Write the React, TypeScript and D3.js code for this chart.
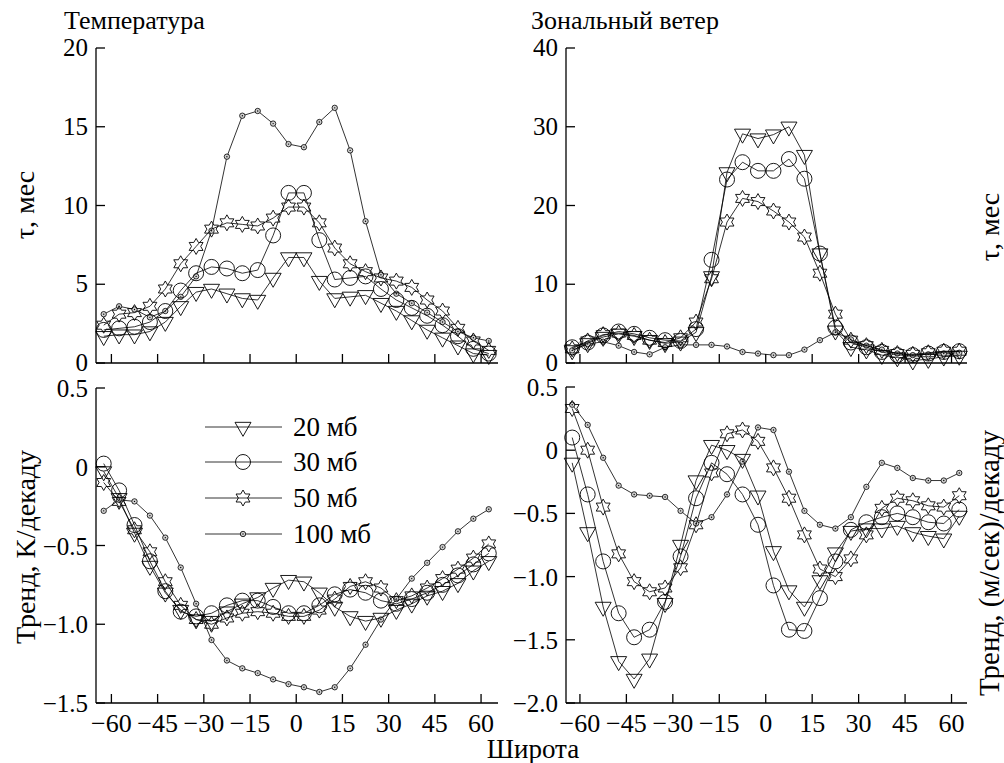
import * as d3 from "d3";

// latitudes of all points (deg)
const lats = [
  -62.5, -57.5, -52.5, -47.5, -42.5, -37.5, -32.5, -27.5, -22.5, -17.5, -12.5, -7.5, -2.5,
  2.5, 7.5, 12.5, 17.5, 22.5, 27.5, 32.5, 37.5, 42.5, 47.5, 52.5, 57.5, 62.5,
];

// Температура, τ (мес)
const tempTau20 = [1.7, 1.8, 1.8, 2.0, 2.6, 3.6, 4.5, 4.7, 4.4, 4.1, 4.0, 5.4, 6.7, 6.7, 5.2, 4.1, 4.2, 4.3, 3.8, 3.3, 2.7, 2.1, 1.6, 1.1, 0.6, 0.5];
const tempTau30 = [2.1, 2.2, 2.3, 2.6, 3.3, 4.6, 5.7, 6.1, 6.0, 5.7, 5.9, 8.1, 10.8, 10.8, 7.8, 5.3, 5.4, 5.5, 4.7, 4.0, 3.5, 3.0, 2.4, 1.7, 0.9, 0.6];
const tempTau50 = [2.4, 3.1, 3.2, 3.6, 4.7, 6.3, 7.4, 8.5, 8.9, 8.8, 8.7, 9.2, 9.9, 9.9, 8.9, 7.3, 6.3, 5.8, 5.4, 5.2, 4.8, 4.0, 3.3, 2.2, 1.4, 0.8];
const tempTau100 = [3.1, 3.6, 3.4, 2.9, 3.3, 4.2, 5.5, 8.4, 13.1, 15.7, 16.0, 15.2, 13.9, 13.7, 15.3, 16.2, 13.5, 9.0, 5.6, 4.4, 3.8, 3.2, 2.6, 2.0, 1.6, 1.4];

// Зональный ветер, τ (мес)
const windTau20 = [1.6, 2.5, 3.3, 3.7, 3.4, 2.9, 2.5, 2.7, 3.9, 11.0, 24.2, 29.1, 28.5, 29.0, 30.0, 26.4, 13.9, 4.1, 2.0, 1.7, 1.0, 0.7, 0.3, 0.5, 0.8, 0.9];
const windTau30 = [2.0, 2.6, 3.5, 4.0, 3.7, 3.2, 2.9, 2.8, 4.3, 13.1, 23.3, 25.5, 24.4, 24.4, 25.9, 23.4, 13.9, 4.5, 2.6, 2.0, 1.4, 1.0, 1.0, 1.2, 1.4, 1.5];
const windTau50 = [1.8, 2.8, 3.6, 3.8, 3.5, 2.9, 2.6, 3.2, 5.2, 10.7, 17.9, 20.9, 20.5, 19.3, 17.9, 16.0, 11.4, 6.2, 2.9, 2.2, 1.6, 1.2, 1.1, 1.3, 1.5, 1.5];
const windTau100 = [1.6, 2.4, 2.7, 2.2, 1.4, 1.1, 2.0, 2.3, 2.3, 2.3, 2.1, 1.4, 1.2, 1.0, 1.0, 1.7, 2.9, 3.9, 3.0, 2.2, 1.7, 1.2, 1.0, 1.1, 1.2, 1.3];

// Тренд температуры, K/декаду
const tempTrend20 = [-0.03, -0.2, -0.42, -0.63, -0.8, -0.91, -0.97, -0.98, -0.92, -0.87, -0.83, -0.77, -0.72, -0.73, -0.8, -0.89, -0.95, -0.98, -0.96, -0.91, -0.87, -0.82, -0.79, -0.74, -0.66, -0.6];
const tempTrend30 = [0.02, -0.15, -0.37, -0.6, -0.79, -0.92, -0.95, -0.93, -0.88, -0.85, -0.85, -0.89, -0.93, -0.93, -0.88, -0.81, -0.78, -0.8, -0.85, -0.87, -0.84, -0.8, -0.75, -0.69, -0.62, -0.55];
const tempTrend50 = [-0.1, -0.22, -0.4, -0.54, -0.73, -0.88, -0.97, -1.0, -0.96, -0.93, -0.92, -0.93, -0.95, -0.95, -0.91, -0.84, -0.76, -0.73, -0.77, -0.85, -0.82, -0.77, -0.71, -0.65, -0.58, -0.49];
const tempTrend100 = [-0.28, -0.21, -0.22, -0.31, -0.45, -0.64, -0.87, -1.1, -1.23, -1.28, -1.31, -1.35, -1.38, -1.4, -1.43, -1.4, -1.28, -1.13, -0.97, -0.84, -0.71, -0.61, -0.51, -0.41, -0.33, -0.27];

// Тренд ветра, (м/сек)/декаду
const windTrend20 = [-0.1, -0.65, -1.24, -1.67, -1.81, -1.65, -1.21, -0.75, -0.24, 0.04, 0.0, -0.07, -0.36, -0.8, -1.11, -1.24, -1.03, -0.81, -0.64, -0.62, -0.62, -0.6, -0.65, -0.68, -0.7, -0.52];
const windTrend30 = [0.1, -0.35, -0.88, -1.29, -1.48, -1.42, -1.2, -0.84, -0.38, -0.1, -0.19, -0.35, -0.59, -1.07, -1.42, -1.43, -1.17, -0.88, -0.63, -0.57, -0.53, -0.5, -0.53, -0.57, -0.58, -0.47];
const windTrend50 = [0.33, 0.0, -0.45, -0.82, -1.04, -1.12, -1.09, -0.93, -0.59, -0.18, 0.13, 0.16, 0.07, -0.14, -0.38, -0.67, -0.94, -1.0, -0.86, -0.67, -0.46, -0.38, -0.4, -0.44, -0.45, -0.36];
const windTrend100 = [0.36, 0.2, -0.06, -0.28, -0.35, -0.36, -0.37, -0.48, -0.58, -0.53, -0.35, -0.09, 0.18, 0.16, -0.17, -0.48, -0.59, -0.62, -0.53, -0.29, -0.1, -0.14, -0.22, -0.24, -0.24, -0.18];

const xTicks = [-60, -45, -30, -15, 0, 15, 30, 45, 60];
const legendLabels = ["20 мб", "30 мб", "50 мб", "100 мб"];
const markerKinds = ["tri", "circle", "star", "dot"];

const FONT = '"Liberation Serif", "DejaVu Serif", "Times New Roman", serif';
const TICK = 9;
const TICK_FS = 25;

function Marker({ kind, x, y }: { kind: string; x: number; y: number }) {
  const st = { fill: "none", stroke: "#000", strokeWidth: 0.9 };
  if (kind === "tri") {
    const s = 16, h = 14;
    return <path d={`M${x - s / 2},${y - h / 3}L${x + s / 2},${y - h / 3}L${x},${y + (2 * h) / 3}Z`} {...st} />;
  }
  if (kind === "circle") return <circle cx={x} cy={y} r={7.5} {...st} />;
  if (kind === "star") {
    const R = 8, r = R / Math.sqrt(3);
    const pts = d3.range(12).map((i) => {
      const a = ((-90 + i * 30) * Math.PI) / 180;
      const rr = i % 2 === 0 ? R : r;
      return [x + rr * Math.cos(a), y + rr * Math.sin(a)];
    });
    return <path d={"M" + pts.map((p) => p.join(",")).join("L") + "Z"} {...st} />;
  }
  return (
    <g>
      <circle cx={x} cy={y} r={2.7} fill="#d0d0d0" stroke="#000" strokeWidth={0.8} />
      <circle cx={x} cy={y} r={0.7} fill="#000" />
    </g>
  );
}

type PanelProps = {
  xr: [number, number];
  xd: [number, number];
  yr: [number, number];
  yd: [number, number];
  yTicks: number[];
  fmt: (v: number) => string;
  series: number[][];
  xLabels: boolean;
  dy: number;
};

function Panel({ xr, xd, yr, yd, yTicks, fmt, series, xLabels, dy }: PanelProps) {
  const x = d3.scaleLinear().domain(xd).range(xr);
  const y = d3.scaleLinear().domain(yd).range(yr);
  const line = d3
    .line<number>()
    .x((_, i) => x(lats[i]))
    .y((d) => y(d));
  const order = [3, 2, 1, 0];
  return (
    <g>
      <line x1={xr[0]} x2={xr[0]} y1={yr[0]} y2={yr[1]} stroke="#000" strokeWidth={1.3} />
      <line x1={xr[0]} x2={xr[1]} y1={yr[0]} y2={yr[0]} stroke="#000" strokeWidth={1.3} />
      {yTicks.map((t) => (
        <g key={t}>
          <line x1={xr[0]} x2={xr[0] + TICK} y1={y(t)} y2={y(t)} stroke="#000" strokeWidth={1.3} />
          <text x={xr[0] - 8} y={y(t) + dy} textAnchor="end" fontSize={TICK_FS}>
            {fmt(t)}
          </text>
        </g>
      ))}
      {xTicks.map((t) => (
        <g key={t}>
          <line x1={x(t)} x2={x(t)} y1={yr[0]} y2={yr[0] - TICK} stroke="#000" strokeWidth={1.3} />
          {xLabels && (
            <text x={x(t)} y={yr[0] + 29} textAnchor="middle" fontSize={TICK_FS + 1}>
              {d3.format("d")(t)}
            </text>
          )}
        </g>
      ))}
      {order.map((k) => (
        <g key={k}>
          <path d={line(series[k]) || ""} fill="none" stroke="#000" strokeWidth={0.8} />
          {series[k].map((v, i) => (
            <Marker key={i} kind={markerKinds[k]} x={x(lats[i])} y={y(v)} />
          ))}
        </g>
      ))}
    </g>
  );
}

const fmtInt = d3.format("d");
const fmtTrend = (v: number) => (v === 0 ? "0" : d3.format(".1f")(v));

export default function App() {
  const legendY = [427, 462, 498, 534];
  return (
    <svg
      width={1004}
      height={763}
      style={{ position: "absolute", left: 0, top: 0, background: "#fff", fontFamily: FONT }}
      fill="#000"
    >
      <text x={64} y={29} fontSize={26}>Температура</text>
      <text x={531} y={29} fontSize={26}>Зональный ветер</text>

      <Panel xr={[96, 498]} xd={[-65, 65.5]} yr={[363, 48]} yd={[0, 20]} yTicks={[0, 5, 10, 15, 20]} fmt={fmtInt}
        series={[tempTau20, tempTau30, tempTau50, tempTau100]} xLabels={false} dy={8} />
      <Panel xr={[566, 967]} xd={[-64.5, 65]} yr={[363, 48]} yd={[0, 40]} yTicks={[0, 10, 20, 30, 40]} fmt={fmtInt}
        series={[windTau20, windTau30, windTau50, windTau100]} xLabels={false} dy={8} />
      <Panel xr={[96, 498]} xd={[-65, 65.5]} yr={[703, 388]} yd={[-1.5, 0.5]} yTicks={[-1.5, -1, -0.5, 0, 0.5]} fmt={fmtTrend}
        series={[tempTrend20, tempTrend30, tempTrend50, tempTrend100]} xLabels={true} dy={9} />
      <Panel xr={[566, 967]} xd={[-64.5, 65]} yr={[703, 387]} yd={[-2, 0.5]} yTicks={[-2, -1.5, -1, -0.5, 0, 0.5]} fmt={fmtTrend}
        series={[windTrend20, windTrend30, windTrend50, windTrend100]} xLabels={true} dy={9} />

      {/* legend */}
      {legendLabels.map((lab, i) => (
        <g key={lab}>
          <line x1={205} x2={282} y1={legendY[i]} y2={legendY[i]} stroke="#000" strokeWidth={0.8} />
          <Marker kind={markerKinds[i]} x={243} y={legendY[i]} />
          <text x={293} y={legendY[i] + 9} fontSize={27}>{lab}</text>
        </g>
      ))}

      {/* axis titles */}
      <text transform="translate(34,205) rotate(-90)" textAnchor="middle" fontSize={28}>τ, мес</text>
      <text transform="translate(35,547) rotate(-90)" textAnchor="middle" fontSize={28}>Тренд, K/декаду</text>
      <text transform="translate(999,227) rotate(-90)" textAnchor="middle" fontSize={28}>τ, мес</text>
      <text transform="translate(999,563) rotate(-90)" textAnchor="middle" fontSize={29}>Тренд, (м/сек)/декаду</text>
      <text x={533} y={758} textAnchor="middle" fontSize={27}>Широта</text>
    </svg>
  );
}
